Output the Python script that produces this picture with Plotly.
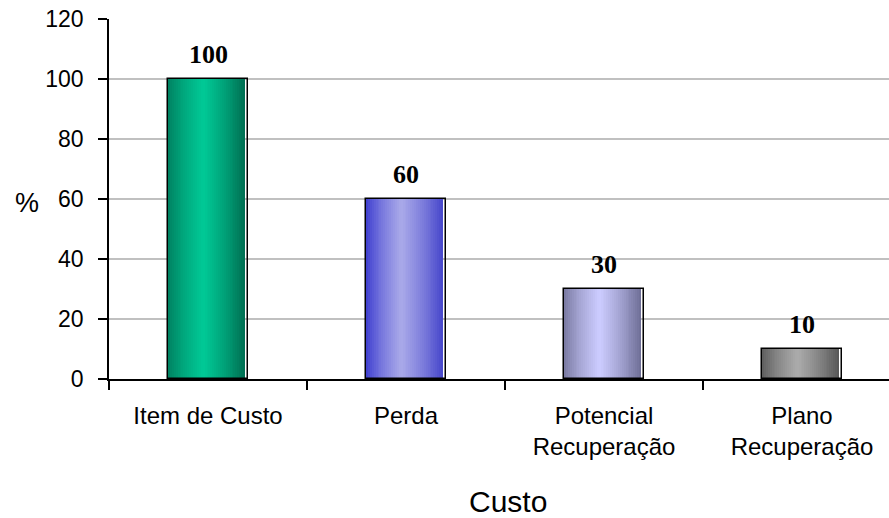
import plotly.graph_objects as go

categories = ["Item de Custo", "Perda", "Potencial<br>Recuperação", "Plano<br>Recuperação"]
values = [100, 60, 30, 10]
y_ticks = [0, 20, 40, 60, 80, 100, 120]
x_title = "Custo"
y_title = "%"

# gradient colours per bar: (left edge, centre highlight, right edge)
edge_left = ["#007f5f", "#3c3ccf", "#77779f", "#5c5c5c"]
centre = ["#00c996", "#a9a9e9", "#ccccff", "#ababab"]
edge_right = ["#006f52", "#4646cb", "#6e6e96", "#575757"]


def hex2rgb(h):
    h = h.lstrip("#")
    return tuple(int(h[i:i + 2], 16) for i in (0, 2, 4))


def mix(a, b, t):
    ra, rb = hex2rgb(a), hex2rgb(b)
    return "rgb(%d,%d,%d)" % tuple(round(ra[i] + (rb[i] - ra[i]) * t) for i in range(3))


def grad(i, f):
    peak = 0.45
    if f <= peak:
        t = (f / peak) ** 0.8
        return mix(edge_left[i], centre[i], t)
    t = ((f - peak) / (1 - peak)) ** 1.2
    return mix(centre[i], edge_right[i], t)


BAR_W = 0.404
FACE_W = 0.389
N = 40
step = FACE_W / N

fig = go.Figure()
for k in range(N):
    f = (k + 0.5) / N
    fig.add_trace(go.Bar(
        x=categories, y=values,
        width=step * 1.3 if k < N - 1 else step,
        offset=-BAR_W / 2 + k * step,
        marker=dict(color=[grad(i, f) for i in range(len(values))], line=dict(width=0)),
        hoverinfo="skip", showlegend=False,
    ))

# outline of each bar
fig.add_trace(go.Bar(
    x=categories, y=values, width=BAR_W, offset=-BAR_W / 2,
    marker=dict(color="rgba(0,0,0,0)", line=dict(color="black", width=1.5)),
    showlegend=False, hoverinfo="skip",
))

for c, v in zip(categories, values):
    fig.add_annotation(
        x=c, y=v, text="<b>%d</b>" % v, showarrow=False,
        yanchor="bottom", yshift=8,
        font=dict(family="Liberation Serif", size=26, color="black"),
    )

fig.add_annotation(
    xref="paper", yref="paper", x=(508 - 109) / 780, y=-(501 - 379) / 360,
    text=x_title, showarrow=False, yanchor="middle",
    font=dict(family="Liberation Sans", size=30, color="black"),
)
fig.add_annotation(
    xref="paper", yref="paper", x=(27 - 109) / 780, y=(379 - 203) / 360,
    text=y_title, showarrow=False, xanchor="center", yanchor="middle",
    font=dict(family="Liberation Sans", size=27, color="black"),
)

fig.update_layout(
    width=889, height=518,
    margin=dict(l=109, r=0, t=19, b=139),
    paper_bgcolor="white", plot_bgcolor="white",
    barmode="overlay", bargap=0,
    font=dict(family="Liberation Sans", color="black"),
    xaxis=dict(
        range=[-0.5, -0.5 + 780 / 198], tickson="boundaries",
        ticks="outside", ticklen=9, tickcolor="black", tickwidth=1.5,
        showline=True, linecolor="black", linewidth=1.5,
        showgrid=False, tickfont=dict(size=24), ticklabelstandoff=14,
    ),
    yaxis=dict(
        range=[0, 120], tickvals=y_ticks,
        ticks="outside", ticklen=9, tickcolor="black", tickwidth=1.5,
        showline=True, linecolor="black", linewidth=1.5,
        showgrid=True, gridcolor="#c0c0c0", gridwidth=1.5,
        tickfont=dict(size=23), zeroline=False, ticklabelstandoff=10,
    ),
)

fig.write_html("out.html")
